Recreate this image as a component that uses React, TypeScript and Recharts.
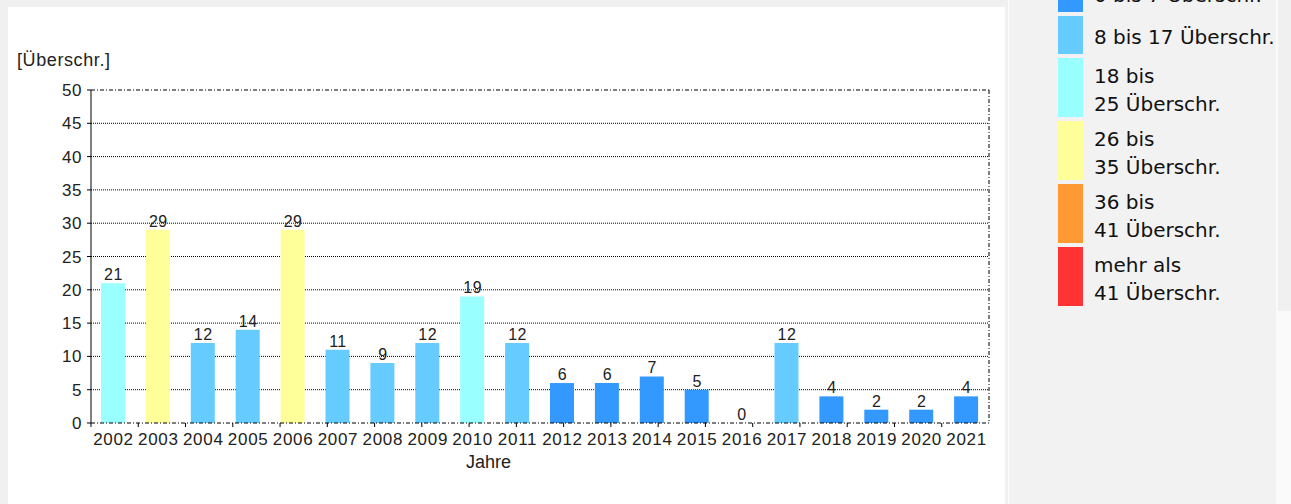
import { BarChart, Bar, Line, XAxis, YAxis, CartesianGrid, Cell, LabelList } from 'recharts';

const years = ['2002', '2003', '2004', '2005', '2006', '2007', '2008', '2009', '2010', '2011', '2012', '2013', '2014', '2015', '2016', '2017', '2018', '2019', '2020', '2021'];
const exceedances = [21, 29, 12, 14, 29, 11, 9, 12, 19, 12, 6, 6, 7, 5, 0, 12, 4, 2, 2, 4];
const yTicks = [0, 5, 10, 15, 20, 25, 30, 35, 40, 45, 50];

// class limits (upper bound) and their colours
const classMax = [7, 17, 25, 35, 41, Infinity];
const classColors = ['#3399ff', '#66ccff', '#99ffff', '#ffff99', '#ff9933', '#ff3333'];
const classLabels = [
  ['0 bis 7 Überschr.'],
  ['8 bis 17 Überschr.'],
  ['18 bis', '25 Überschr.'],
  ['26 bis', '35 Überschr.'],
  ['36 bis', '41 Überschr.'],
  ['mehr als', '41 Überschr.'],
];

const boundaries = years.map((_, i) => i).concat(years.length);

const data = years.map((year, i) => ({ year, value: exceedances[i] }));

const colorFor = (v: number) => classColors[classMax.findIndex((m) => v <= m)];

const FONT = '"Liberation Sans", Arial, sans-serif';
const DASH_DOT = '4 2 1 2';

export default function App() {
  return (
    <div style={{ position: 'absolute', left: 0, top: 0, width: 1291, height: 504, background: '#f0f0f0', overflow: 'hidden' }}>
      <div style={{ position: 'absolute', left: 8, top: 7, width: 997, height: 497, background: '#fff' }} />
      <div style={{ position: 'absolute', left: 1008, top: 0, width: 1, height: 504, background: '#fbfbfb' }} />
      <div style={{ position: 'absolute', left: 1009, top: 0, width: 267, height: 504, background: '#f2f2f2' }} />
      <div style={{ position: 'absolute', left: 1276, top: 0, width: 15, height: 504, background: '#fafafa' }} />
      <div style={{ position: 'absolute', left: 1278, top: 0, width: 13, height: 311, background: '#f0f0f0' }} />

      <div style={{ position: 'absolute', left: 17, top: 50, fontFamily: FONT, fontSize: 18, letterSpacing: 0.6, color: '#222' }}>[Überschr.]</div>
      <div style={{ position: 'absolute', left: 466, top: 452, fontFamily: FONT, fontSize: 18, color: '#222' }}>Jahre</div>

      <div style={{ position: 'absolute', left: 0, top: 0 }}>
        <BarChart width={1005} height={504} data={data} margin={{ top: 89, right: 15, left: 0, bottom: 50 }} barSize={24}>
          <CartesianGrid vertical={false} horizontalValues={yTicks.slice(1, -1)} stroke="#000" strokeDasharray="1 1" />
          <XAxis
            type="number"
            domain={[0, years.length]}
            ticks={boundaries}
            height={1}
            axisLine={{ stroke: '#000', strokeDasharray: DASH_DOT }}
            tickLine={{ stroke: '#000' }}
            tickSize={4}
            tick={() => <g />}
          />
          <XAxis
            xAxisId="cat"
            dataKey="year"
            height={30}
            axisLine={false}
            tickLine={false}
            tickSize={0}
            tickMargin={9}
            interval={0}
            tick={{ fill: '#222', fontSize: 17, fontFamily: FONT, letterSpacing: 0.7 }}
          />
          <XAxis
            xAxisId="top"
            orientation="top"
            dataKey="year"
            height={1}
            tick={false}
            tickLine={false}
            axisLine={{ stroke: '#000', strokeDasharray: DASH_DOT }}
          />
          <YAxis
            width={91}
            domain={[0, 50]}
            ticks={yTicks}
            interval={0}
            axisLine={{ stroke: '#000' }}
            tickLine={{ stroke: '#000' }}
            tickSize={4}
            tickMargin={5}
            tick={{ fill: '#222', fontSize: 17, fontFamily: FONT, letterSpacing: 0.5 }}
          />
          <YAxis
            yAxisId="right"
            orientation="right"
            width={1}
            domain={[0, 50]}
            tick={false}
            tickLine={false}
            axisLine={{ stroke: '#000', strokeDasharray: DASH_DOT }}
          />
          <Bar xAxisId="cat" dataKey="value" isAnimationActive={false}>
            {data.map((d) => (
              <Cell key={d.year} fill={colorFor(d.value)} />
            ))}
          </Bar>
          <Line xAxisId="cat" dataKey="value" stroke="none" dot={false} activeDot={false} isAnimationActive={false}>
            <LabelList dataKey="value" position="top" offset={3} fill="#222" fontSize={16} fontFamily={FONT} letterSpacing={0.5} />
          </Line>
        </BarChart>
      </div>

      <div style={{ position: 'absolute', left: 1058, top: -26, fontFamily: '"DejaVu Sans", Verdana, sans-serif', fontSize: 20, color: '#111' }}>
        {classLabels.map((lines, i) => (
          <div key={i} style={{ display: 'flex', alignItems: 'center', height: lines.length > 1 ? 59 : 38, marginBottom: 4, whiteSpace: 'nowrap' }}>
            <div style={{ width: 25, height: '100%', background: classColors[i], flexShrink: 0 }} />
            <div style={{ marginLeft: 11, lineHeight: '28px', paddingTop: 4 }}>
              {lines.map((l) => (
                <div key={l}>{l}</div>
              ))}
            </div>
          </div>
        ))}
      </div>
    </div>
  );
}
